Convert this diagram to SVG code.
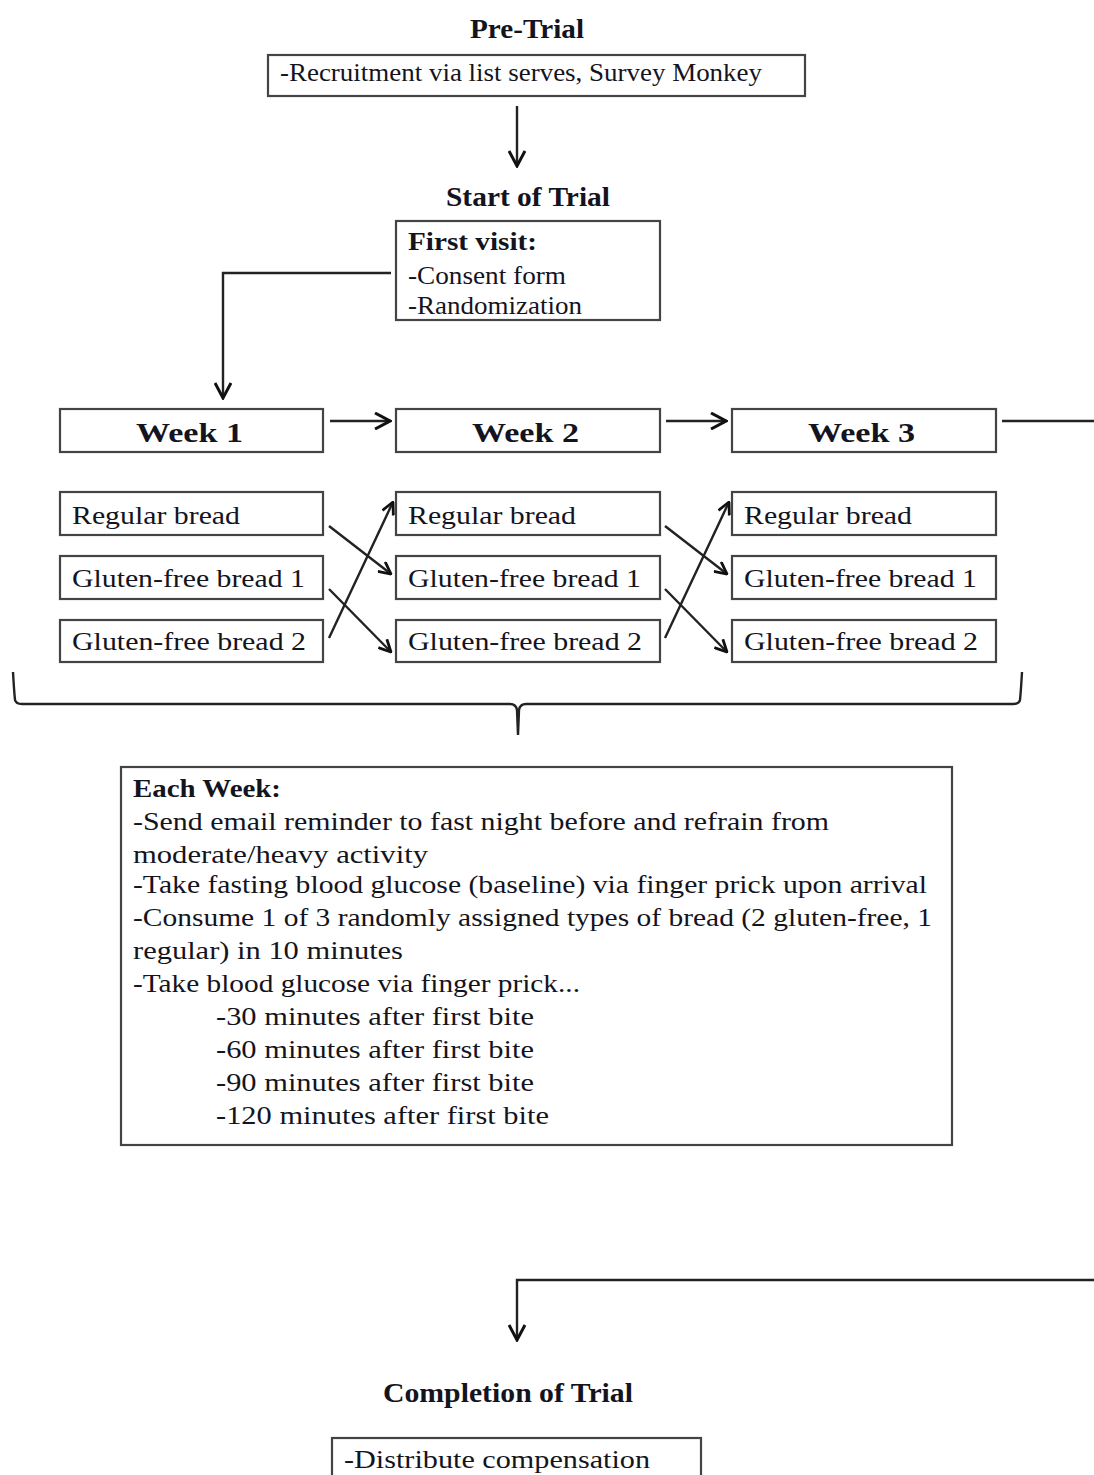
<svg xmlns="http://www.w3.org/2000/svg" width="1094" height="1475" viewBox="0 0 1094 1475">
<style>
.box{fill:#fff;stroke:#444;stroke-width:2.2}
.t{font-family:"Liberation Serif","DejaVu Serif",serif;fill:#141420}
.b{font-weight:bold}
.h{font-size:27px;font-weight:bold}
.n{font-size:25px}
.w{font-size:28px;font-weight:bold}
.c{fill:none;stroke:#222;stroke-width:2.4}
</style>
<defs>
<marker id="ah" viewBox="0 0 14 14" refX="13" refY="7" markerWidth="14" markerHeight="14" markerUnits="userSpaceOnUse" orient="auto">
<path d="M1,1 L13,7 L1,13" fill="none" stroke="#111" stroke-width="2.8"/>
</marker>
<marker id="ahL" viewBox="0 0 18 18" refX="16" refY="9" markerWidth="18" markerHeight="18" markerUnits="userSpaceOnUse" orient="auto">
<path d="M1,1 L16,9 L1,17" fill="none" stroke="#111" stroke-width="3"/>
</marker>
</defs>

<g id="pretrial">
<text class="t h" x="470" y="38" textLength="114" lengthAdjust="spacingAndGlyphs">Pre-Trial</text>
<rect class="box" x="268" y="55" width="537" height="41"/>
<text class="t n" x="280" y="81" textLength="482" lengthAdjust="spacingAndGlyphs">-Recruitment via list serves, Survey Monkey</text>
</g>

<g id="start">
<text class="t h" x="446" y="206" textLength="164" lengthAdjust="spacingAndGlyphs">Start of Trial</text>
<rect class="box" x="396" y="221" width="264" height="99"/>
<text class="t n b" x="408" y="250" textLength="129" lengthAdjust="spacingAndGlyphs">First visit:</text>
<text class="t n" x="408" y="284" textLength="158" lengthAdjust="spacingAndGlyphs">-Consent form</text>
<text class="t n" x="408" y="314" textLength="174" lengthAdjust="spacingAndGlyphs">-Randomization</text>
</g>

<g id="week1">
<rect class="box" x="60" y="409" width="263" height="43"/>
<text class="t w" x="136" y="442" textLength="107" lengthAdjust="spacingAndGlyphs">Week 1</text>
</g>
<g id="week2">
<rect class="box" x="396" y="409" width="264" height="43"/>
<text class="t w" x="472" y="442" textLength="107" lengthAdjust="spacingAndGlyphs">Week 2</text>
</g>
<g id="week3">
<rect class="box" x="732" y="409" width="264" height="43"/>
<text class="t w" x="808" y="442" textLength="107" lengthAdjust="spacingAndGlyphs">Week 3</text>
</g>

<g id="w1-breads">
<rect class="box" x="60" y="492" width="263" height="43"/>
<text class="t n" x="72" y="524" textLength="168" lengthAdjust="spacingAndGlyphs">Regular bread</text>
<rect class="box" x="60" y="556" width="263" height="43"/>
<text class="t n" x="72" y="587" textLength="233" lengthAdjust="spacingAndGlyphs">Gluten-free bread 1</text>
<rect class="box" x="60" y="620" width="263" height="42"/>
<text class="t n" x="72" y="650" textLength="234" lengthAdjust="spacingAndGlyphs">Gluten-free bread 2</text>
</g>
<g id="w2-breads">
<rect class="box" x="396" y="492" width="264" height="43"/>
<text class="t n" x="408" y="524" textLength="168" lengthAdjust="spacingAndGlyphs">Regular bread</text>
<rect class="box" x="396" y="556" width="264" height="43"/>
<text class="t n" x="408" y="587" textLength="233" lengthAdjust="spacingAndGlyphs">Gluten-free bread 1</text>
<rect class="box" x="396" y="620" width="264" height="42"/>
<text class="t n" x="408" y="650" textLength="234" lengthAdjust="spacingAndGlyphs">Gluten-free bread 2</text>
</g>
<g id="w3-breads">
<rect class="box" x="732" y="492" width="264" height="43"/>
<text class="t n" x="744" y="524" textLength="168" lengthAdjust="spacingAndGlyphs">Regular bread</text>
<rect class="box" x="732" y="556" width="264" height="43"/>
<text class="t n" x="744" y="587" textLength="233" lengthAdjust="spacingAndGlyphs">Gluten-free bread 1</text>
<rect class="box" x="732" y="620" width="264" height="42"/>
<text class="t n" x="744" y="650" textLength="234" lengthAdjust="spacingAndGlyphs">Gluten-free bread 2</text>
</g>

<g id="eachweek">
<rect class="box" x="121" y="767" width="831" height="378"/>
<text class="t n b" x="133" y="797" textLength="148" lengthAdjust="spacingAndGlyphs">Each Week:</text>
<text class="t n" x="133" y="830" textLength="696" lengthAdjust="spacingAndGlyphs">-Send email reminder to fast night before and refrain from</text>
<text class="t n" x="133" y="863" textLength="295" lengthAdjust="spacingAndGlyphs">moderate/heavy activity</text>
<text class="t n" x="133" y="893" textLength="794" lengthAdjust="spacingAndGlyphs">-Take fasting blood glucose (baseline) via finger prick upon arrival</text>
<text class="t n" x="133" y="926" textLength="799" lengthAdjust="spacingAndGlyphs">-Consume 1 of 3 randomly assigned types of bread (2 gluten-free, 1</text>
<text class="t n" x="133" y="959" textLength="270" lengthAdjust="spacingAndGlyphs">regular) in 10 minutes</text>
<text class="t n" x="133" y="992" textLength="447" lengthAdjust="spacingAndGlyphs">-Take blood glucose via finger prick...</text>
<text class="t n" x="216" y="1025" textLength="318" lengthAdjust="spacingAndGlyphs">-30 minutes after first bite</text>
<text class="t n" x="216" y="1058" textLength="318" lengthAdjust="spacingAndGlyphs">-60 minutes after first bite</text>
<text class="t n" x="216" y="1091" textLength="318" lengthAdjust="spacingAndGlyphs">-90 minutes after first bite</text>
<text class="t n" x="216" y="1124" textLength="333" lengthAdjust="spacingAndGlyphs">-120 minutes after first bite</text>
</g>

<g id="completion">
<text class="t h" x="383" y="1402" textLength="250" lengthAdjust="spacingAndGlyphs">Completion of Trial</text>
<rect class="box" x="332" y="1438" width="369" height="50"/>
<text class="t n" x="344" y="1468" textLength="306" lengthAdjust="spacingAndGlyphs">-Distribute compensation</text>
</g>

<g id="connectors">
<line class="c" x1="517" y1="106" x2="517" y2="166" marker-end="url(#ahL)"/>
<polyline class="c" points="391,273 223,273 223,398" marker-end="url(#ahL)"/>
<line class="c" x1="330" y1="421" x2="390" y2="421" marker-end="url(#ahL)"/>
<line class="c" x1="666" y1="421" x2="726" y2="421" marker-end="url(#ahL)"/>
<line class="c" x1="1002" y1="421" x2="1094" y2="421"/>
<line class="c" x1="329" y1="526" x2="391" y2="574" marker-end="url(#ah)"/>
<line class="c" x1="329" y1="589" x2="391" y2="652" marker-end="url(#ah)"/>
<line class="c" x1="329" y1="638" x2="393" y2="502" marker-end="url(#ah)"/>
<line class="c" x1="665" y1="526" x2="727" y2="574" marker-end="url(#ah)"/>
<line class="c" x1="665" y1="589" x2="727" y2="652" marker-end="url(#ah)"/>
<line class="c" x1="665" y1="638" x2="729" y2="502" marker-end="url(#ah)"/>
<path class="c" d="M13,672 Q14,690 15,700 Q16,704 22,704 L510,704 Q516,704 517,710 L518,735 M518,735 L519,710 Q520,704 526,704 L1013,704 Q1019,704 1020,700 Q1021,690 1022,672"/>
<polyline class="c" points="1094,1280 517,1280 517,1340" marker-end="url(#ahL)"/>
</g>
</svg>
